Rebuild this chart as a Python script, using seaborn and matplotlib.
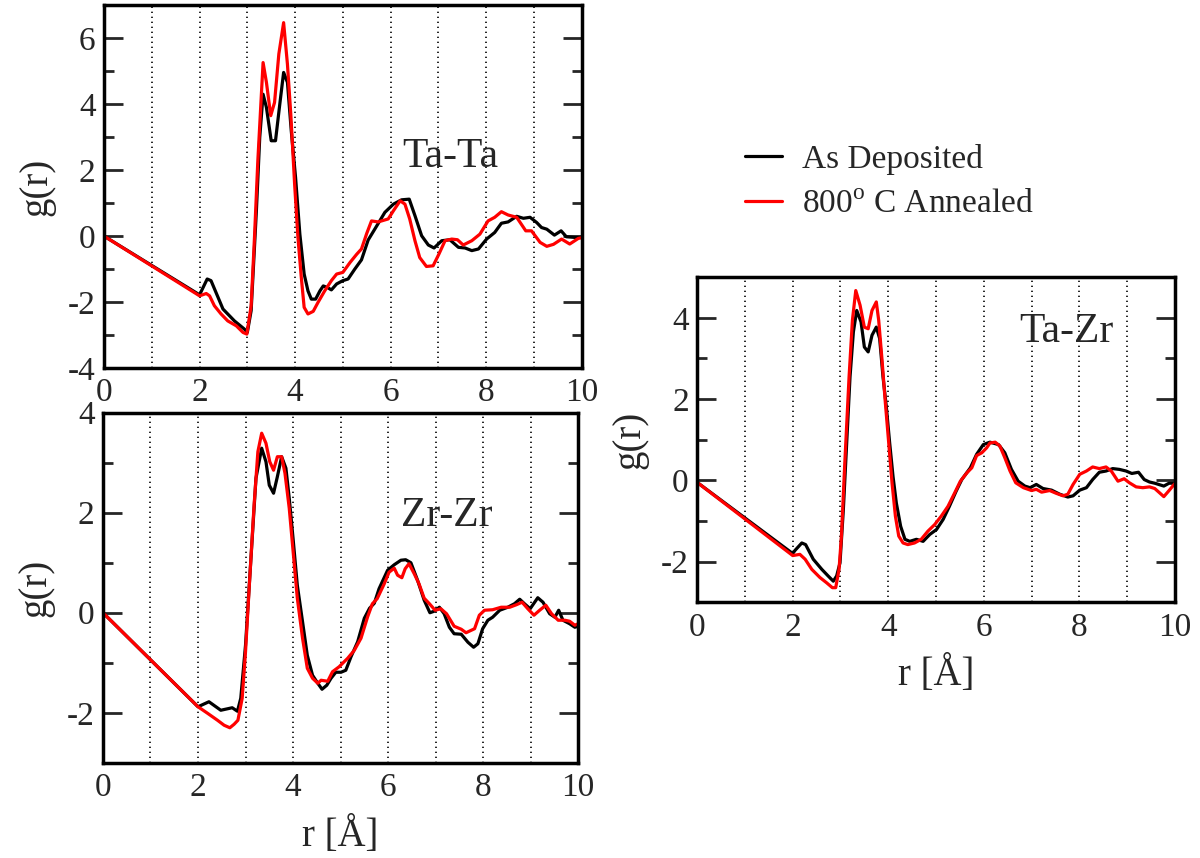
import numpy as np
import pandas as pd
import seaborn as sns
import matplotlib.pyplot as plt
from matplotlib.ticker import MultipleLocator

# --- datos: g(r) para cada par ---
r_tata_dep = [0.0, 2.0, 2.16, 2.24, 2.49, 2.73, 2.94, 3.0, 3.08, 3.19, 3.26, 3.33, 3.40, 3.50, 3.59, 3.68,
              3.76, 3.84, 3.92, 4.01, 4.10, 4.19, 4.27, 4.34, 4.43, 4.52, 4.59, 4.68, 4.76, 4.87, 5.0, 5.11,
              5.25, 5.39, 5.53, 5.71, 5.88, 6.06, 6.23, 6.39, 6.51, 6.65, 6.79, 6.91, 7.07, 7.24, 7.42, 7.56,
              7.70, 7.84, 8.01, 8.18, 8.32, 8.46, 8.64, 8.78, 8.92, 9.06, 9.16, 9.27, 9.43, 9.57, 9.68, 9.86, 10.0]
g_tata_dep = [0.0, -1.78, -1.30, -1.35, -2.21, -2.57, -2.82, -2.92, -2.26, 0.77, 2.99, 4.30, 3.90, 2.89, 2.89, 4.00,
              4.96, 4.66, 3.19, 1.78, 0.06, -1.15, -1.66, -1.91, -1.91, -1.66, -1.51, -1.56, -1.63, -1.45, -1.35, -1.30,
              -1.00, -0.72, -0.12, 0.31, 0.72, 0.97, 1.10, 1.12, 0.62, 0.01, -0.27, -0.36, -0.14, -0.11, -0.34, -0.36,
              -0.44, -0.39, -0.09, 0.11, 0.39, 0.43, 0.60, 0.54, 0.57, 0.41, 0.26, 0.21, 0.03, 0.16, -0.02, -0.04, -0.04]

r_tata_ann = [0.0, 2.0, 2.14, 2.21, 2.31, 2.45, 2.59, 2.77, 2.91, 2.99, 3.08, 3.15, 3.22, 3.33, 3.40, 3.49,
              3.57, 3.66, 3.76, 3.84, 3.91, 3.99, 4.06, 4.13, 4.19, 4.27, 4.38, 4.48, 4.62, 4.76, 4.87, 5.0,
              5.15, 5.29, 5.39, 5.50, 5.60, 5.74, 5.95, 6.06, 6.20, 6.30, 6.40, 6.51, 6.61, 6.75, 6.89, 7.01,
              7.14, 7.28, 7.40, 7.52, 7.70, 7.87, 8.04, 8.18, 8.32, 8.46, 8.64, 8.83, 8.95, 9.13, 9.27, 9.41,
              9.58, 9.75, 9.93, 10.0]
g_tata_ann = [0.0, -1.81, -1.74, -1.81, -2.11, -2.36, -2.57, -2.72, -2.92, -2.97, -2.11, -0.04, 2.28, 5.26, 4.66, 3.65,
              4.05, 5.52, 6.47, 5.21, 3.70, 1.58, -0.04, -1.25, -2.16, -2.36, -2.28, -2.01, -1.66, -1.35, -1.15, -1.10,
              -0.80, -0.55, -0.39, 0.08, 0.46, 0.43, 0.52, 0.77, 1.07, 0.97, 0.52, -0.14, -0.65, -0.92, -0.90, -0.55,
              -0.14, -0.09, -0.11, -0.27, -0.14, 0.06, 0.46, 0.57, 0.74, 0.64, 0.57, 0.16, 0.16, -0.19, -0.31, -0.25,
              -0.09, -0.24, -0.07, -0.05]

r_zrzr_dep = [0.0, 2.0, 2.23, 2.48, 2.72, 2.83, 2.90, 3.0, 3.11, 3.22, 3.34, 3.43, 3.50, 3.59, 3.67, 3.76,
              3.85, 3.92, 4.0, 4.09, 4.20, 4.30, 4.41, 4.52, 4.61, 4.71, 4.80, 4.90, 5.01, 5.11, 5.22, 5.36,
              5.50, 5.61, 5.71, 5.81, 5.99, 6.13, 6.27, 6.37, 6.48, 6.62, 6.76, 6.88, 6.97, 7.08, 7.18, 7.29,
              7.39, 7.54, 7.68, 7.80, 7.89, 7.99, 8.10, 8.20, 8.35, 8.52, 8.66, 8.77, 8.87, 8.99, 9.15, 9.26,
              9.40, 9.51, 9.59, 9.68, 9.82, 9.93, 10.0]
g_zrzr_dep = [0.0, -1.88, -1.78, -1.95, -1.90, -1.97, -1.71, -0.65, 1.02, 2.69, 3.29, 3.02, 2.55, 2.39, 2.72, 3.12,
              2.89, 2.29, 1.49, 0.55, -0.18, -0.85, -1.25, -1.41, -1.53, -1.45, -1.31, -1.19, -1.19, -1.15, -0.88, -0.58,
              -0.11, 0.09, 0.19, 0.48, 0.85, 0.96, 1.05, 1.06, 1.00, 0.65, 0.25, 0.00, 0.03, 0.11, -0.02, -0.29,
              -0.42, -0.43, -0.59, -0.69, -0.62, -0.32, -0.15, -0.09, 0.05, 0.11, 0.18, 0.27, 0.18, 0.08, 0.30, 0.21,
              -0.02, -0.09, 0.05, -0.15, -0.22, -0.29, -0.27]

r_zrzr_ann = [0.0, 2.0, 2.20, 2.41, 2.55, 2.67, 2.76, 2.84, 2.93, 3.0, 3.08, 3.18, 3.26, 3.34, 3.43, 3.51,
              3.59, 3.67, 3.76, 3.83, 3.92, 3.99, 4.09, 4.20, 4.30, 4.41, 4.52, 4.59, 4.73, 4.83, 4.97, 5.15,
              5.29, 5.43, 5.57, 5.67, 5.77, 5.92, 6.02, 6.13, 6.20, 6.29, 6.36, 6.44, 6.55, 6.65, 6.76, 6.87,
              6.99, 7.11, 7.23, 7.39, 7.54, 7.64, 7.82, 7.92, 8.03, 8.20, 8.38, 8.56, 8.70, 8.82, 8.94, 9.07,
              9.19, 9.32, 9.44, 9.58, 9.72, 9.82, 9.93, 10.0]
g_zrzr_ann = [0.0, -1.88, -2.01, -2.15, -2.25, -2.30, -2.23, -2.15, -1.71, -0.78, 0.55, 2.15, 3.22, 3.59, 3.39, 3.02,
              2.85, 3.12, 3.12, 2.79, 2.09, 1.35, 0.29, -0.51, -1.11, -1.31, -1.41, -1.35, -1.37, -1.18, -1.08, -0.91,
              -0.75, -0.51, -0.08, 0.18, 0.28, 0.58, 0.81, 0.89, 0.75, 0.70, 0.88, 0.98, 0.78, 0.58, 0.29, 0.18,
              0.05, 0.08, -0.02, -0.27, -0.33, -0.40, -0.32, -0.05, 0.05, 0.06, 0.11, 0.11, 0.16, 0.21, 0.08, -0.05,
              0.05, 0.15, -0.02, -0.15, -0.15, -0.17, -0.25, -0.22]

r_tazr_dep = [0.0, 2.0, 2.05, 2.19, 2.27, 2.43, 2.61, 2.74, 2.85, 2.92, 2.99, 3.06, 3.13, 3.20, 3.27, 3.34,
              3.43, 3.50, 3.58, 3.66, 3.75, 3.82, 3.89, 3.96, 4.03, 4.10, 4.17, 4.26, 4.35, 4.45, 4.59, 4.73,
              4.87, 5.01, 5.15, 5.28, 5.42, 5.54, 5.72, 5.85, 5.99, 6.13, 6.31, 6.44, 6.58, 6.72, 6.86, 6.97,
              7.10, 7.24, 7.42, 7.59, 7.76, 7.87, 8.01, 8.15, 8.28, 8.42, 8.56, 8.70, 8.84, 8.98, 9.10, 9.24,
              9.36, 9.47, 9.58, 9.77, 9.88, 10.0]
g_tazr_dep = [-0.05, -1.80, -1.72, -1.54, -1.58, -1.94, -2.19, -2.35, -2.48, -2.35, -2.03, -0.72, 0.92, 2.55, 3.65, 4.18,
              3.90, 3.28, 3.16, 3.57, 3.77, 3.49, 2.55, 1.81, 0.92, 0.10, -0.56, -1.13, -1.45, -1.50, -1.45, -1.50,
              -1.33, -1.21, -0.96, -0.64, -0.27, 0.02, 0.31, 0.64, 0.88, 0.94, 0.88, 0.68, 0.27, -0.02, -0.14, -0.18,
              -0.10, -0.20, -0.24, -0.34, -0.41, -0.38, -0.24, -0.18, 0.02, 0.20, 0.23, 0.29, 0.27, 0.23, 0.17, 0.20,
              0.02, -0.04, -0.07, -0.14, -0.07, -0.07]

r_tazr_ann = [0.0, 2.0, 2.15, 2.26, 2.40, 2.57, 2.71, 2.83, 2.90, 2.97, 3.02, 3.09, 3.18, 3.25, 3.32, 3.41,
              3.50, 3.58, 3.66, 3.75, 3.80, 3.87, 3.94, 4.01, 4.08, 4.15, 4.22, 4.31, 4.41, 4.55, 4.69, 4.83,
              4.97, 5.11, 5.25, 5.39, 5.51, 5.65, 5.75, 5.85, 5.96, 6.06, 6.13, 6.24, 6.34, 6.44, 6.55, 6.67,
              6.83, 7.0, 7.10, 7.21, 7.38, 7.52, 7.66, 7.76, 7.87, 8.01, 8.15, 8.28, 8.42, 8.56, 8.67, 8.81,
              8.94, 9.05, 9.19, 9.33, 9.47, 9.58, 9.77, 9.88, 10.0]
g_tazr_ann = [-0.05, -1.85, -1.82, -1.94, -2.19, -2.39, -2.52, -2.64, -2.64, -2.19, -1.37, 0.42, 2.55, 3.94, 4.67, 4.31,
              3.77, 3.73, 4.18, 4.39, 3.94, 2.96, 1.90, 0.92, -0.07, -0.88, -1.37, -1.54, -1.58, -1.54, -1.45, -1.25,
              -1.09, -0.88, -0.64, -0.31, -0.02, 0.19, 0.31, 0.61, 0.68, 0.80, 0.92, 0.94, 0.84, 0.56, 0.23, -0.06,
              -0.18, -0.25, -0.22, -0.29, -0.25, -0.32, -0.38, -0.34, -0.10, 0.15, 0.23, 0.33, 0.29, 0.33, 0.23, -0.02,
              0.04, -0.06, -0.16, -0.18, -0.16, -0.20, -0.40, -0.25, -0.08]

series_labels = ['As Deposited', r'800$^{\mathrm{o}}$ C Annealed']

# --- estilo ---
sns.set_style("ticks")
plt.rcParams['font.family'] = ['Liberation Serif', 'DejaVu Serif']
plt.rcParams['mathtext.fontset'] = 'custom'
plt.rcParams['mathtext.rm'] = 'Liberation Serif'
plt.rcParams['axes.unicode_minus'] = False


def draw_panel(ax, r_dep, g_dep, r_ann, g_ann, ylim, name, name_xy, xlabel=True):
    sns.lineplot(x=r_dep, y=g_dep, ax=ax, color='black', lw=2.3, estimator=None, sort=False,
                 label=series_labels[0])
    sns.lineplot(x=r_ann, y=g_ann, ax=ax, color='red', lw=2.3, estimator=None, sort=False,
                 label=series_labels[1])
    ax.set_xlim(0, 10)
    ax.set_ylim(*ylim)
    ax.xaxis.set_major_locator(MultipleLocator(2))
    ax.xaxis.set_minor_locator(MultipleLocator(1))
    ax.yaxis.set_major_locator(MultipleLocator(2))
    ax.yaxis.set_minor_locator(MultipleLocator(1))
    ax.set_axisbelow(True)
    ax.grid(axis='x', which='both', color='black', linestyle=(0, (0.8, 2.2)), lw=1.2)
    ax.tick_params(axis='x', which='both', length=0, pad=7, labelsize=24)
    ax.tick_params(axis='y', which='major', direction='in', left=True, right=True,
                   length=14, width=2, labelsize=24, pad=6)
    ax.tick_params(axis='y', which='minor', direction='in', left=True, right=True,
                   length=7, width=2)
    for s in ax.spines.values():
        s.set_visible(True)
        s.set_linewidth(2.5)
        s.set_color('black')
    ax.set_ylabel('g(r)', fontsize=28, labelpad=9)
    ax.set_xlabel('r [Å]' if xlabel else '', fontsize=28, labelpad=10)
    ax.text(name_xy[0], name_xy[1], name, fontsize=30, ha='center', va='center')
    handles, labels = ax.get_legend_handles_labels()
    ax.get_legend().remove()
    return handles, labels


fig = plt.figure(figsize=(12, 8.58), dpi=100)
ax1 = fig.add_axes([0.0867, 0.571, 0.398, 0.423])
ax2 = fig.add_axes([0.0858, 0.111, 0.396, 0.408])
ax3 = fig.add_axes([0.581, 0.298, 0.398, 0.379])

handles, labels = draw_panel(ax1, r_tata_dep, g_tata_dep, r_tata_ann, g_tata_ann, (-4, 7),
                             'Ta-Ta', (7.24, 2.4), xlabel=False)
draw_panel(ax2, r_zrzr_dep, g_zrzr_dep, r_zrzr_ann, g_zrzr_ann, (-3, 4), 'Zr-Zr', (7.24, 1.94))
draw_panel(ax3, r_tazr_dep, g_tazr_dep, r_tazr_ann, g_tazr_ann, (-3, 5), 'Ta-Zr', (7.74, 3.65))

fig.legend(handles, labels, loc='center left', bbox_to_anchor=(0.621, 0.788), frameon=False,
           fontsize=24, handlelength=1.1, handletextpad=0.6, labelspacing=0.45,
           borderpad=0, borderaxespad=0)

fig.savefig('out.png', dpi=100)
